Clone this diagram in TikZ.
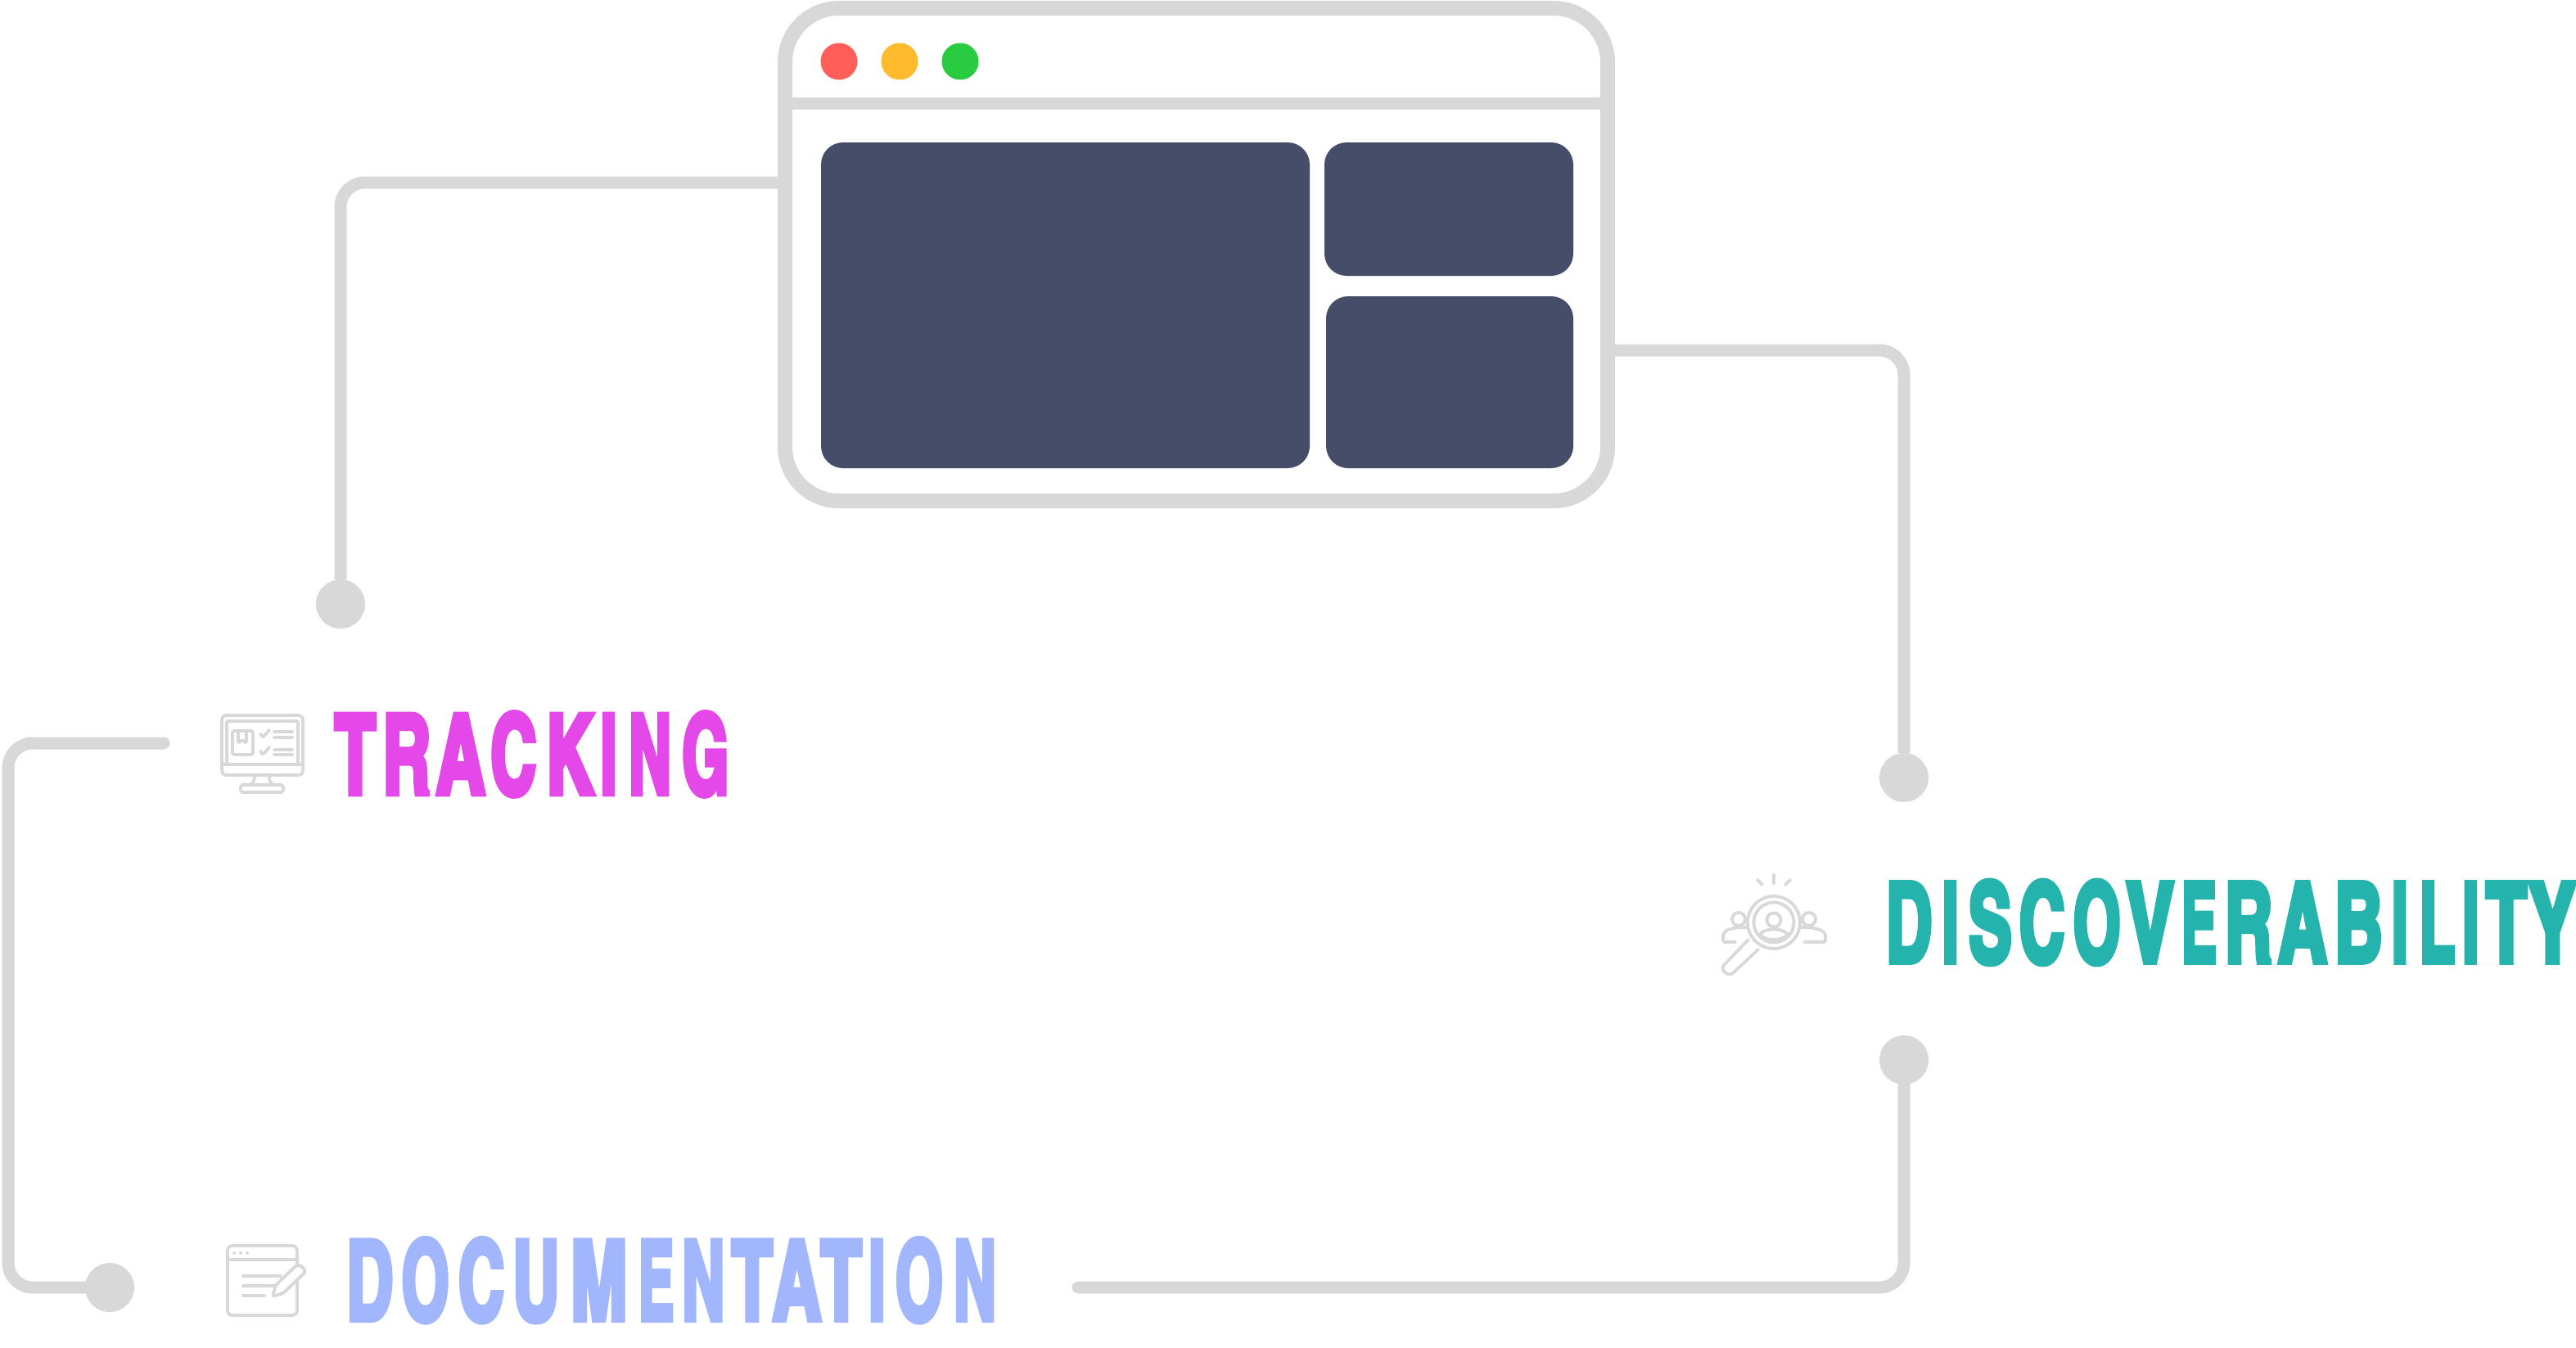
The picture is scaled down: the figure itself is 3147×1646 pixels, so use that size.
\documentclass[tikz,border=0pt]{standalone}
\usepackage{fontspec}
\usepackage{graphicx}
\newfontfamily\lbl[BoldFeatures={FakeBold=5}]{TeX Gyre Heros Cn}
% one letter, stretched to span the reference's extent [#1,#2] on the page, measured from \lorigin
\def\lorigin{0}
\newcommand\Lt[3]{\rlap{\hspace*{\dimexpr#1pt-\lorigin pt\relax}\resizebox{\dimexpr#2pt-#1pt\relax}{97pt}{\lbl\bfseries\hbox{\vrule height\fontcharht\font`H depth0pt width0pt\smash{#3}}}}}
\definecolor{rail}{HTML}{D8D8D8}
\definecolor{panel}{HTML}{464D69}
\definecolor{tracking}{HTML}{E548E8}
\definecolor{discover}{HTML}{24B3AD}
\definecolor{docs}{HTML}{A2B6FD}
\definecolor{dotr}{HTML}{FF5F58}
\definecolor{doty}{HTML}{FFBB2C}
\definecolor{dotg}{HTML}{29CC41}
\tikzset{
  x=1pt,y=-1pt,
  wire/.style={draw=rail,line width=15pt,rounded corners=30pt,line cap=round},
  endpoint/.style={circle,fill=rail,minimum size=60pt,inner sep=0pt,outer sep=0pt},
  frame/.style={draw=rail,fill=white,line width=18pt,rounded corners=66pt,minimum width=1005pt,minimum height=602pt,inner sep=0pt,outer sep=0pt},
  pane/.style={fill=panel,rounded corners=27pt,inner sep=0pt,outer sep=0pt},
  light/.style={circle,minimum size=45pt,inner sep=0pt,outer sep=0pt},
  heading/.style={anchor=south west,inner sep=0pt,outer sep=0pt},
  icon/.style={draw=rail,line width=3.8pt,line cap=round,line join=round,rounded corners=1.5pt},
}
\begin{document}
\begin{tikzpicture}
\useasboundingbox (0,0) rectangle (3147,1646);
% end points
\node[endpoint] (dotA) at (416,738) {};
\node[endpoint] (dotB) at (2326,950) {};
\node[endpoint] (dotC) at (2326,1295) {};
\node[endpoint] (dotD) at (134,1573) {};
\coordinate (winL) at (955,223);
\coordinate (winR) at (1970,428);
\coordinate (docEnd) at (1317,1573);
\coordinate (trackEnd) at (200,908);
% connectors
\draw[wire,line cap=butt] (winL) -| (dotA);
\draw[wire,line cap=butt] (winR) -| (dotB);
\draw[wire] (docEnd) -| (dotC);
\draw[wire] (trackEnd) -- (10,908) -- (10,1573) -- (dotD);
% window
\node[frame] (window) at (1461.5,311) {};
\draw[rail,line width=15pt] (window.west |- 0,126) -- (window.east |- 0,126);
\node[light,fill=dotr] (red) at (1025,75) {};
\node[light,fill=doty] (yellow) at (1099,75) {};
\node[light,fill=dotg] (green) at (1173,75) {};
\node[pane,minimum width=597pt,minimum height=398pt] (paneA) at (1301.5,373) {};
\node[pane,minimum width=304pt,minimum height=163pt] (paneB) at (1770,255.5) {};
\node[pane,minimum width=302pt,minimum height=210pt] (paneC) at (1771,467) {};
% headings
\node[heading] (hTrack) at (409,970) {\def\lorigin{409}\color{tracking}\hbox to 481pt{%
\Lt{409}{459}{T}\Lt{467.7}{526}{R}\Lt{533}{592.7}{A}\Lt{599.3}{655.3}{C}\Lt{667}{725}{K}\Lt{733.7}{753.3}{I}\Lt{768.3}{820}{N}\Lt{833.3}{890}{G}\hss}};
\node[heading] (hDisc) at (2304,1175.5) {\def\lorigin{2304}\color{discover}\hbox to 843pt{%
\Lt{2304}{2360}{D}\Lt{2372.7}{2392.7}{I}\Lt{2405}{2457.7}{S}\Lt{2466.7}{2522.3}{C}\Lt{2532.7}{2590.7}{O}\Lt{2597.7}{2655.7}{V}\Lt{2665.3}{2708}{E}\Lt{2718}{2776}{R}\Lt{2783.3}{2842.7}{A}\Lt{2852.3}{2910.7}{B}\Lt{2922}{2941.7}{I}\Lt{2956}{2999}{L}\Lt{3008.3}{3028.3}{I}\Lt{3037}{3087}{T}\Lt{3089.3}{3146.7}{Y}\hss}};
\node[heading] (hDoc) at (423.3,1612.7) {\def\lorigin{423.3}\color{docs}\hbox to 794pt{%
\Lt{423.3}{480}{D}\Lt{490.7}{548.7}{O}\Lt{560}{616}{C}\Lt{626.7}{683.3}{U}\Lt{697}{766.7}{M}\Lt{780.3}{823.3}{E}\Lt{833.3}{885.3}{N}\Lt{894}{943.7}{T}\Lt{944}{1003.3}{A}\Lt{1002.7}{1052.7}{T}\Lt{1061.3}{1081.3}{I}\Lt{1094}{1152}{O}\Lt{1165}{1217}{N}\hss}};
% monitor icon
\draw[icon,rounded corners=5pt] (271,874) rectangle (370,947);
\draw[icon] (277,934) -- (277,881) -- (364,881) -- (364,934);
\draw[icon] (271,934) -- (370,934);
\draw[icon] (311,948) .. controls (311,955) and (309,958) .. (304,959);
\draw[icon] (329,948) .. controls (329,955) and (331,958) .. (336,959);
\draw[icon,rounded corners=3pt] (294,959) rectangle (346,968);
\draw[icon] (284,893) rectangle (309,922);
\draw[icon] (291,894) -- (291,908) -- (296,904) -- (301,908) -- (301,894);
\draw[icon] (318,897) -- (321,901) -- (329,892);
\draw[icon] (318,918) -- (321,922) -- (329,913);
\draw[icon] (335,894) -- (357,894) (335,901) -- (357,901);
\draw[icon] (335,916) -- (357,916) (335,922) -- (357,922);
% magnifier icon
\begin{scope}[icon]
\draw (2167,1069) -- (2167,1079);
\draw (2147,1075) -- (2153,1081);
\draw (2187,1075) -- (2181,1081);
\draw (2124,1123) circle (8);
\draw (2210,1123) circle (8);
\draw (2120,1151) -- (2105,1151) -- (2105,1145) .. controls (2105,1137) and (2113,1133) .. (2133,1133);
\draw (2204,1151) -- (2230,1151) -- (2230,1145) .. controls (2230,1137) and (2220,1133) .. (2201,1133);
\draw (2167,1127) circle (32);
\draw (2167,1127) circle (24.5);
\draw (2167,1124) circle (8.5);
\draw (2150,1142) .. controls (2155,1133) and (2179,1133) .. (2184,1142);
\draw (2150,1142) .. controls (2157,1150) and (2177,1150) .. (2184,1142);
\draw (2136,1148) -- (2107,1178) .. controls (2101,1185) and (2111,1194) .. (2118,1188) -- (2148,1160);
\end{scope}
% document icon
\begin{scope}[icon]
\draw[rounded corners=6pt] (278,1522) rectangle (363,1607);
\draw (278,1539) -- (363,1539);
\fill[rail] (286,1531) circle (2) (294,1531) circle (2) (302,1531) circle (2);
\draw (297,1559) -- (343,1559) (297,1571) -- (337,1571) (297,1583) -- (323,1583);
\draw[fill=white] (333,1584) -- (337,1570) -- (360,1548) .. controls (366,1543) and (376,1552) .. (370,1557) -- (346,1580) -- cycle;
\end{scope}
\end{tikzpicture}
\end{document}
